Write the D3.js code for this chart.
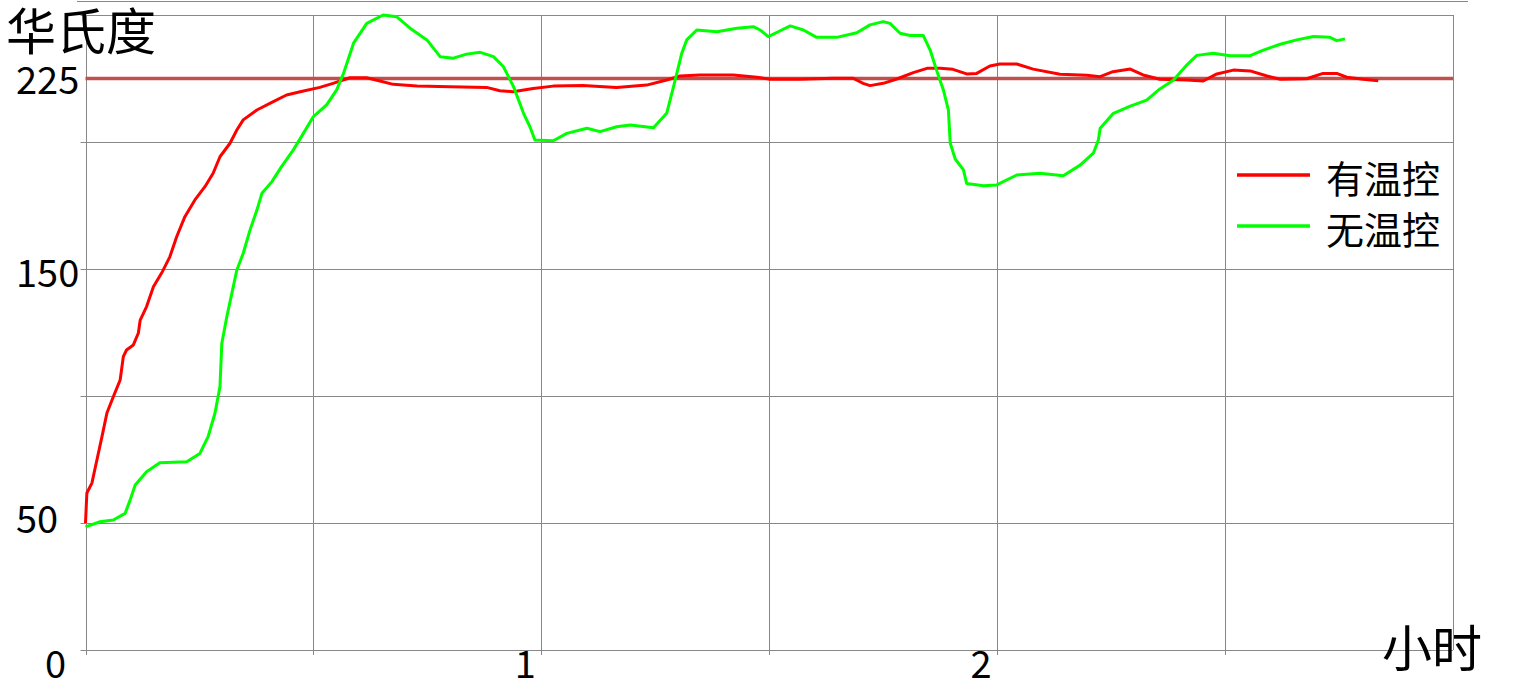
<!DOCTYPE html>
<html>
<head>
<meta charset="utf-8">
<script src="https://cdn.jsdelivr.net/npm/d3@7/dist/d3.min.js"></script>
<style>
html,body{margin:0;padding:0;background:#fff;}
svg{display:block;}
text{font-family:"Noto Sans CJK SC","Noto Sans",sans-serif;fill:#000;}
</style>
</head>
<body>
<svg id="chart" width="1526" height="686"></svg>
<script>
// ---- data ----
const seriesNames = ["有温控", "无温控"];
const seriesColors = ["#ff0000", "#00ff00"];
const yTickLabels = [225, 150, 50, 0];
const xTickLabels = [1, 2];
const yGrid = [0, 50, 100, 150, 200, 250];
const xGrid = [0, 0.5, 1, 1.5, 2, 2.5, 3];
const setPoint = 225;
const yTitle = "华氏度";
const xTitle = "小时";

// 有温控 (hours, °F)
const redT = [0,0.003,0.014,0.025,0.036,0.047,0.061,0.076,0.083,0.090,0.105,0.116,0.120,0.134,0.149,0.167,0.185,0.200,0.218,0.240,0.262,0.280,0.295,0.317,0.332,0.346,0.376,0.412,0.441,0.471,0.514,0.543,0.580,0.617,0.646,0.675,0.727,0.800,0.880,0.909,0.938,0.982,1.026,1.091,1.165,1.231,1.275,1.304,1.348,1.421,1.473,1.502,1.568,1.640,1.684,1.706,1.721,1.750,1.780,1.816,1.846,1.875,1.903,1.933,1.955,1.984,2.006,2.043,2.079,2.138,2.197,2.226,2.254,2.292,2.320,2.357,2.416,2.452,2.482,2.518,2.555,2.592,2.621,2.679,2.715,2.745,2.767,2.803,2.836];
const redV = [50.0,61.8,65.7,74.8,83.9,93.3,99.7,106.3,115.5,118.1,120.1,124.8,129.9,135.2,143.0,148.4,154.8,162.7,170.6,177.2,182.4,187.7,194.2,199.5,204.7,208.7,212.6,215.9,218.5,219.8,221.5,223.1,225.3,225.3,224.0,222.7,222.0,221.8,221.5,220.2,219.8,221.1,222.0,222.2,221.5,222.4,224.4,226.0,226.4,226.4,225.5,224.7,224.7,225.1,225.1,223.1,222.2,223.1,224.8,227.3,229.0,229.0,228.6,226.8,227.0,229.9,230.7,230.7,228.7,226.7,226.3,225.7,227.7,228.7,226.4,224.7,224.4,224.0,226.8,228.3,228.0,226.0,224.7,224.9,227.0,227.0,225.5,224.7,224.1];

// 无温控 (hours, °F)
const greenT = [0,0.032,0.061,0.087,0.098,0.109,0.134,0.163,0.222,0.251,0.269,0.284,0.295,0.299,0.310,0.321,0.332,0.346,0.361,0.376,0.387,0.409,0.430,0.456,0.478,0.500,0.529,0.551,0.566,0.588,0.617,0.653,0.683,0.712,0.749,0.778,0.807,0.836,0.866,0.895,0.917,0.939,0.961,0.975,0.986,1.026,1.056,1.100,1.129,1.165,1.195,1.246,1.275,1.290,1.308,1.319,1.341,1.385,1.429,1.465,1.480,1.498,1.524,1.546,1.575,1.604,1.648,1.692,1.721,1.750,1.765,1.787,1.809,1.838,1.853,1.867,1.882,1.893,1.897,1.908,1.926,1.933,1.970,1.999,2.043,2.094,2.145,2.182,2.211,2.222,2.226,2.255,2.292,2.328,2.357,2.387,2.416,2.438,2.474,2.511,2.555,2.584,2.621,2.657,2.694,2.730,2.745,2.763];
const greenV = [48.5,50.5,51.2,53.8,59.1,65.0,70.2,73.7,74.1,77.4,84.0,93.2,103.7,120.7,131.2,140.4,149.6,156.2,165.4,173.2,179.8,184.4,190.3,196.9,203.4,210.0,214.6,220.5,227.0,238.9,246.7,250.0,249.3,244.8,240.2,233.6,233.0,234.6,235.3,233.6,229.6,221.8,211.3,206.0,200.8,200.5,203.4,205.4,204.1,206.0,206.7,205.6,211.3,221.8,234.9,240.2,244.1,243.4,244.8,245.4,244.1,241.5,243.8,245.7,244.1,241.2,241.2,243.0,246.1,247.4,246.7,242.8,241.9,241.9,236.2,228.3,220.5,212.6,199.6,193.3,189.0,183.7,182.8,183.1,187.0,187.7,186.7,190.9,195.6,200.8,205.4,211.3,214.1,216.5,220.9,224.4,230.3,234.1,234.9,234.0,234.0,236.2,238.5,240.2,241.5,241.2,239.9,240.6];

// ---- drawing ----
const svg = d3.select("#chart");
const x = d3.scaleLinear().domain([0, 3]).range([85.5, 1453]);
const y = d3.scaleLinear().domain([0, 250]).range([650, 15]);
const gridColor = "#888888";

// top decorative line
svg.append("line").attr("x1", 77).attr("x2", 1468).attr("y1", 1.5).attr("y2", 1.5)
  .attr("stroke", gridColor).attr("stroke-width", 1);

// grid
const g = svg.append("g");
g.selectAll("line.h").data(yGrid).enter().append("line")
  .attr("x1", d => x(0) - 5).attr("x2", x(3))
  .attr("y1", d => Math.round(y(d)) + 0.5).attr("y2", d => Math.round(y(d)) + 0.5)
  .attr("stroke", gridColor).attr("stroke-width", 1);
g.selectAll("line.v").data(xGrid).enter().append("line")
  .attr("x1", d => Math.round(x(d)) + 0.5).attr("x2", d => Math.round(x(d)) + 0.5)
  .attr("y1", y(250)).attr("y2", d => (d > 0 && d < 3) || d === 0 ? y(0) + 5 : y(0))
  .attr("stroke", gridColor).attr("stroke-width", 1);

// set point line
svg.append("line").attr("x1", x(0)).attr("x2", x(3))
  .attr("y1", y(setPoint)).attr("y2", y(setPoint))
  .attr("stroke", "#c0504d").attr("stroke-width", 3.5);

// series
const line = d3.line().x(d => x(d[0])).y(d => y(d[1])).curve(d3.curveLinear);
const redData = redT.map((t, i) => [t, redV[i]]);
const greenData = greenT.map((t, i) => [t, greenV[i]]);
[redData, greenData].forEach((data, i) => {
  svg.append("path").datum(data).attr("d", line)
    .attr("fill", "none").attr("stroke", seriesColors[i])
    .attr("stroke-width", 3).attr("stroke-linejoin", "round");
});

// y tick labels
const yLabelDy = {225: -1, 150: 1, 50: -7, 0: 11};
svg.selectAll("text.yl").data(yTickLabels).enter().append("text")
  .attr("x", d => d === 0 ? 45 : 16)
  .attr("y", d => y(d) + yLabelDy[d])
  .attr("dominant-baseline", "central")
  .attr("font-size", 38)
  .text(d => d);

// x tick labels
svg.selectAll("text.xl").data(xTickLabels).enter().append("text")
  .attr("x", d => x(d) - 16)
  .attr("y", 661)
  .attr("text-anchor", "middle")
  .attr("dominant-baseline", "central")
  .attr("font-size", 38)
  .text(d => d);

// titles
svg.append("text").attr("x", 6).attr("y", 28).attr("dominant-baseline", "central")
  .attr("font-size", 50).text(yTitle);
svg.append("text").attr("x", 1382).attr("y", 645).attr("dominant-baseline", "central")
  .attr("font-size", 50).text(xTitle);

// legend
seriesNames.forEach((name, i) => {
  const ly = 175 + i * 51;
  svg.append("line").attr("x1", 1237).attr("x2", 1310).attr("y1", ly).attr("y2", ly)
    .attr("stroke", seriesColors[i]).attr("stroke-width", 3.5);
  svg.append("text").attr("x", 1326).attr("y", ly + 1).attr("dominant-baseline", "central")
    .attr("font-size", 38).text(name);
});
</script>
</body>
</html>
